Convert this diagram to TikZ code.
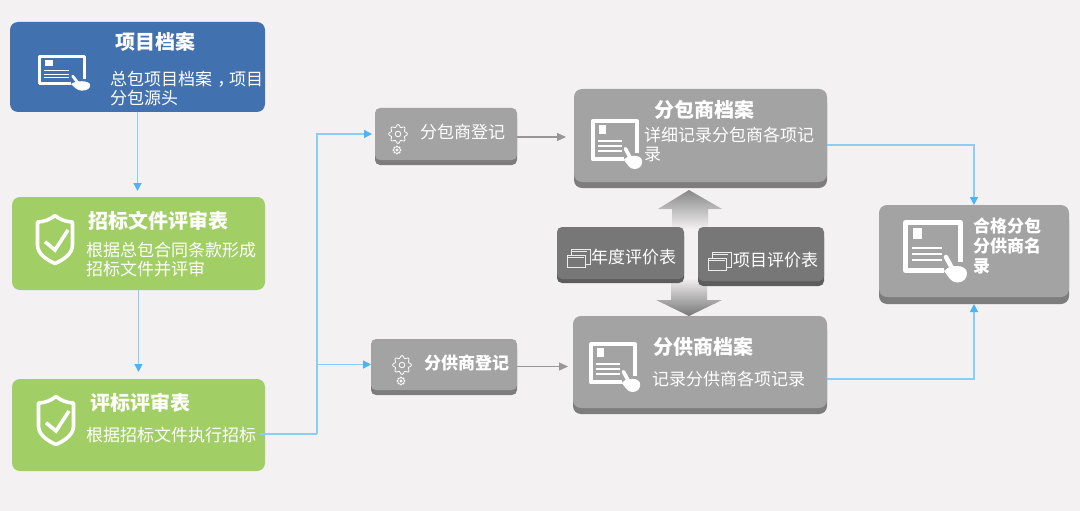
\documentclass[tikz,border=0pt]{standalone}
\usepackage{fontspec}
\setmainfont{Noto Sans CJK SC}
\usetikzlibrary{arrows.meta,shadows}
\definecolor{bgc}{HTML}{F3F1F2}
\definecolor{bluec}{HTML}{4171AE}
\definecolor{greenc}{HTML}{A1CE65}
\definecolor{grayc}{HTML}{A3A3A3}
\definecolor{grayb}{HTML}{7D7D7D}
\definecolor{darkc}{HTML}{777777}
\definecolor{darkb}{HTML}{5D5D5D}
\definecolor{linec}{HTML}{8ACDF5}
\definecolor{tipc}{HTML}{4DB3F2}
\definecolor{garrow}{HTML}{979797}
\tikzset{
  box/.style={rounded corners=#1,inner sep=0pt,outer sep=0pt,anchor=north west,draw=none},
  bandbox/.style n args={3}{box=#1,general shadow={fill=#2,shadow yshift=-#3}},
  flow/.style={draw=linec,line width=1.3pt,-{Triangle[length=8pt,width=8pt,fill=tipc,color=tipc]}},
  flowplain/.style={draw=linec,line width=1.3pt},
  gflow/.style={draw=garrow,line width=1.2pt,-{Triangle[length=9pt,width=8pt,fill=garrow,color=garrow]}},
  ttl/.style={anchor=west,inner sep=0pt,text=white,font=\fontsize{20}{24}\selectfont\bfseries},
  txt/.style={anchor=west,inner sep=0pt,text=white,align=left,font=\fontsize{17}{19.5}\selectfont},
  txtb/.style={txt,font=\fontsize{17}{20}\selectfont\bfseries},
  cardicon/.pic={
    \draw[white,line width=#1pt,line join=round] (41,50.5) -- (2.5,50.5) -- (2.5,2.5) -- (57.5,2.5) -- (57.5,42);
    \fill[white] (9.7,8) rectangle (18.7,19);
    \draw[white,line width=.4*#1pt] (8.7,27.7) -- (38.7,27.7) (8.7,34) -- (38.7,34) (8.7,40) -- (38.7,40);
    \draw[white,line width=.9*#1pt,line cap=round] (43,37) -- (50,50);
    \fill[white] (41,51) .. controls (46,46) and (50,46) .. (54,46) .. controls (60,46) and (64,49) .. (64,53) .. controls (64,59) and (60,62.5) .. (54,62.5) .. controls (48,62.5) and (45,56) .. (41,51) -- cycle;
  },
  shieldicon/.pic={
    \draw[white,line width=3.6pt,line join=round] (1.5,8) .. controls (8,8) and (15,5) .. (19,1.5) .. controls (23,5) and (30,8) .. (36.5,8) -- (36.5,31) .. controls (36.5,40) and (27,46) .. (19,49.5) .. controls (11,46) and (1.5,40) .. (1.5,31) -- cycle;
    \draw[white,line width=3.6pt] (9,27.7) -- (19,36) -- (32,16);
  },
  gearicon/.pic={
    \draw[white,line width=.8pt] plot[domain=0:352,samples=45,smooth cycle] (\x:{8.2*#1+1.3*#1*cos(8*\x)});
    \draw[white,line width=.8pt] (0,0) circle (2.8*#1);
  },
  winicon/.pic={
    \draw[white!85!gray,line width=.8pt] (0,6.5) rectangle (18,18);
    \draw[white!85!gray,line width=.8pt] (4,6.5) -- (4,0) -- (23,0) -- (23,15) -- (18,15);
    \draw[white!85!gray,line width=.5pt] (5,2) -- (20,2) (1,8.5) -- (17,8.5);
  }
}
\begin{document}
\begin{tikzpicture}[x=1pt,y=-1pt]
\useasboundingbox (0,0) rectangle (1080,511);
\fill[bgc] (0,0) rectangle (1080,511);

% big arrows
\path[shade,top color=garrow!90!black,bottom color=bgc] (689,190) -- (722,209) -- (708,209) -- (708,229) -- (672,229) -- (672,209) -- (658,209) -- cycle;
\path[shade,top color=bgc,bottom color=darkc] (671,278) -- (707,278) -- (707,300) -- (722,300) -- (689,316) -- (656,300) -- (671,300) -- cycle;

% boxes
\node[box=8pt,fill=bluec,minimum width=255pt,minimum height=90pt] (a) at (10,22) {};
\node[box=8pt,fill=greenc,minimum width=253pt,minimum height=93pt] (b) at (12,197) {};
\node[box=8pt,fill=greenc,minimum width=253pt,minimum height=92pt] (c) at (12,379) {};
\node[bandbox={5pt}{grayb}{5pt},fill=grayc,minimum width=142pt,minimum height=52pt] (d) at (375,108) {};
\node[bandbox={5pt}{grayb}{5pt},fill=grayc,minimum width=146pt,minimum height=51pt] (e) at (371,339) {};
\node[bandbox={8pt}{grayb}{6pt},fill=grayc,minimum width=253pt,minimum height=93pt] (f) at (574,89) {};
\node[bandbox={8pt}{grayb}{6pt},fill=grayc,minimum width=254pt,minimum height=92pt] (g) at (573,316) {};
\node[bandbox={5pt}{darkb}{4pt},fill=darkc,minimum width=127pt,minimum height=52pt] (h) at (557,227) {};
\node[bandbox={5pt}{darkb}{5pt},fill=darkc,minimum width=126pt,minimum height=54pt] (i) at (698,227) {};
\node[bandbox={8pt}{grayb}{7pt},fill=grayc,minimum width=190pt,minimum height=92pt] (j) at (879,205) {};

% connectors
\coordinate (cstart) at (260,434);
\coordinate (cj) at (317,434);
\coordinate (dout) at ([yshift=-3pt]d.east);
\coordinate (eout) at ([yshift=-2pt]e.east);
\coordinate (fout) at ([yshift=-9.5pt]f.east);
\coordinate (gout) at ([yshift=-17pt]g.east);
\coordinate (jin) at ([yshift=-7pt]j.south);
\draw[flow,shorten >=6pt] (a.south) -- (a.south |- b.north);
\draw[flow,shorten >=7pt] (b.south) -- (b.south |- c.north);
\draw[flowplain] (cstart) -- (cj);
\draw[flow,shorten >=3pt] (cj) |- (d.west);
\draw[flow] (cj) |- (e.west);
\draw[gflow,shorten >=8pt] (dout) -- (dout -| f.west);
\draw[gflow,shorten >=5pt] (eout) -- (eout -| g.west);
\draw[flow] (fout) -| (j.north);
\draw[flow] (gout) -| (jin);

% icons
\pic[xscale=.83,yscale=.57] at (37,55) {cardicon=3};
\pic[xscale=.8,yscale=.8] at (591,119) {cardicon=4};
\pic[xscale=.8,yscale=.8] at (589,342) {cardicon=4};
\pic at (903,220) {cardicon=5};
\pic at (36,214) {shieldicon};
\pic at (37,395) {shieldicon};
\pic at (398,134) {gearicon=1};
\pic at (397,150) {gearicon=.42};
\pic at (402,365) {gearicon=1};
\pic at (401,381) {gearicon=.42};
\pic at (567,249) {winicon};
\pic at (708,252) {winicon};

% text
\node[ttl] (ta) at (115,42) {项目档案};
\node[txt] (ba) at (110,88.5) {总包项目档案\hspace{.3em}，\hspace{-.3em}项目\\分包源头};
\node[ttl] (tb) at (88,220.5) {招标文件评审表};
\node[txt] (bb) at (86,259.5) {根据总包合同条款形成\\招标文件并评审};
\node[ttl] (tc) at (90,403) {评标评审表};
\node[txt] (bc) at (86,435) {根据招标文件执行招标};
\node[txt] (td) at (420,132.5) {分包商登记};
\node[txt,font=\fontsize{17}{20}\selectfont\bfseries] (te) at (424,363) {分供商登记};
\node[ttl] (tf) at (654,110) {分包商档案};
\node[txt] (bf) at (644,144.5) {详细记录分包商各项记\\录};
\node[ttl] (tg) at (653,347) {分供商档案};
\node[txt] (bg) at (652,379) {记录分供商各项记录};
\node[txt] (th) at (591,257) {年度评价表};
\node[txt] (ti) at (733,260) {项目评价表};
\node[txtb] (tj) at (973,246) {合格分包\\分供商名\\录};
\end{tikzpicture}
\end{document}
